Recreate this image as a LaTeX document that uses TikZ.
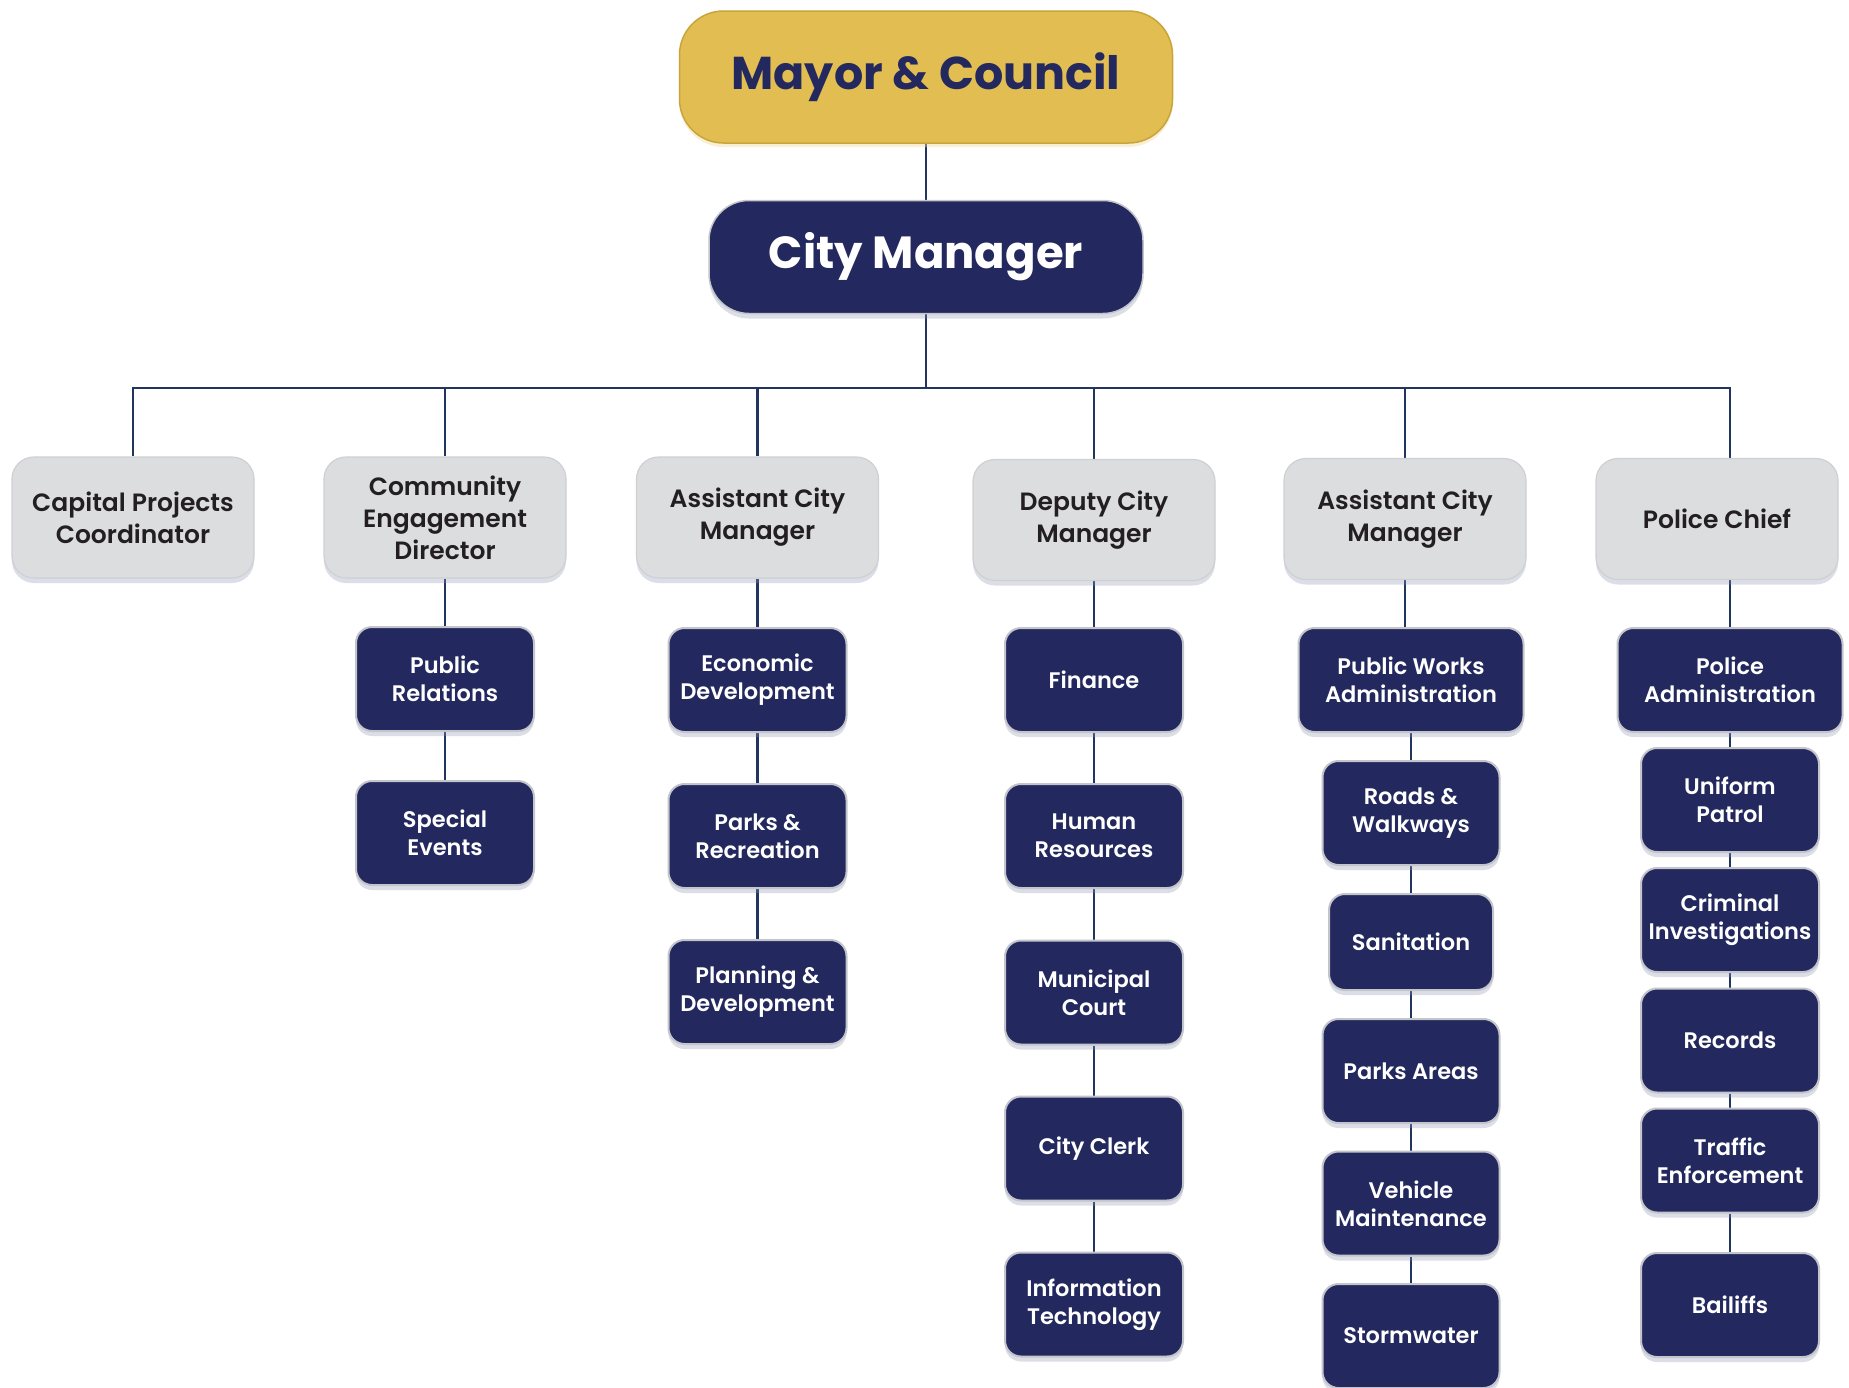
\documentclass[tikz,border=0pt]{standalone}
\usepackage{fontspec}
\setmainfont{Poppins}[UprightFont={* SemiBold},BoldFont={* Bold}]
\usetikzlibrary{shadows}
\definecolor{navy}{HTML}{23295E}
\definecolor{linec}{HTML}{22355F}
\definecolor{gold}{HTML}{E2BE52}
\definecolor{goldedge}{HTML}{C9A43A}
\definecolor{grayf}{HTML}{DCDDDF}
\definecolor{grayedge}{HTML}{CFD0D3}
\definecolor{navyedge}{HTML}{C3C5CB}
\definecolor{shade}{HTML}{8E95B0}
\definecolor{inkdark}{HTML}{231F20}
\pgfdeclarelayer{bg}
\pgfsetlayers{bg,main}
\tikzset{
  boxshadow/.style={drop shadow={shadow xshift=0pt,shadow yshift=-5pt,fill=shade,opacity=0.3}},
  conn/.style={draw=linec,line width=2.6pt},
  topbox/.style={rounded corners=44pt,fill=gold,draw=goldedge,line width=1.5pt,
    minimum width=493pt,minimum height=132pt,text=navy,
    font=\fontsize{46}{52}\selectfont\bfseries,
    drop shadow={shadow xshift=0pt,shadow yshift=-4pt,fill=gold!60,opacity=0.4}},
  cmbox/.style={rounded corners=40pt,fill=navy,draw=navyedge,line width=1.5pt,
    minimum width=434pt,minimum height=113pt,text=white,
    font=\fontsize{45}{50}\selectfont\bfseries,boxshadow},
  graybox/.style={rounded corners=22pt,fill=grayf,draw=grayedge,line width=1.2pt,
    minimum width=242pt,minimum height=121pt,text=inkdark,align=center,
    font=\fontsize{25}{32}\selectfont,boxshadow},
  navybox/.style={rounded corners=16pt,fill=navy,draw=navyedge,line width=2pt,
    minimum width=178pt,minimum height=104pt,text=white,align=center,
    font=\fontsize{22.5}{28}\selectfont,boxshadow},
}
\begin{document}
\begin{tikzpicture}[x=1pt,y=-1pt]
\useasboundingbox (0,0) rectangle (1849,1387);
\begin{pgfonlayer}{bg}
\fill[white] (0,0) rectangle (1849,1387);
\end{pgfonlayer}
\clip (0,0) rectangle (1849,1387);

% top of the hierarchy
\node[topbox] (mayor) at (926,77) {Mayor \& Council};
\node[cmbox] (cm) at (926,257) {City Manager};

% second tier
\node[graybox] (cap) at (133,517.5) {Capital Projects\\Coordinator};
\node[graybox] (ced) at (445,517.5) {Community\\Engagement\\Director};
\node[graybox] (acm1) at (757.5,517.5) {Assistant City\\Manager};
\node[graybox] (dcm) at (1094,520) {Deputy City\\Manager};
\node[graybox] (acm2) at (1405,519) {Assistant City\\Manager};
\node[graybox] (chief) at (1717,519) {Police Chief};

% community engagement
\node[navybox] (pr) at (445,679) {Public\\Relations};
\node[navybox] (se) at (445,833) {Special\\Events};

% first assistant city manager
\node[navybox] (econ) at (757.5,680) {Economic\\Development};
\node[navybox] (parksrec) at (757.5,836) {Parks \&\\Recreation};
\node[navybox] (plan) at (757.5,992) {Planning \&\\Development};

% deputy city manager
\node[navybox] (fin) at (1094,680) {Finance};
\node[navybox] (hr) at (1094,836) {Human\\Resources};
\node[navybox] (court) at (1094,992.5) {Municipal\\Court};
\node[navybox] (clerk) at (1094,1148.5) {City Clerk};
\node[navybox] (it) at (1094,1304.5) {Information\\Technology};

% second assistant city manager
\node[navybox,minimum width=225pt] (pwa) at (1411,680) {Public Works\\Administration};
\node[navybox,minimum width=177pt] (roads) at (1411,813) {Roads \&\\Walkways};
\node[navybox,minimum width=164pt,minimum height=96pt] (sanit) at (1411,942) {Sanitation};
\node[navybox,minimum width=177pt] (parka) at (1411,1071) {Parks Areas};
\node[navybox,minimum width=177pt] (veh) at (1411,1203.5) {Vehicle\\Maintenance};
\node[navybox,minimum width=177pt] (storm) at (1411,1336) {Stormwater};

% police
\node[navybox,minimum width=225pt] (padm) at (1730,680) {Police\\Administration};
\node[navybox] (patrol) at (1730,800) {Uniform\\Patrol};
\node[navybox] (crim) at (1730,920) {Criminal\\Investigations};
\node[navybox] (rec) at (1730,1040.5) {Records};
\node[navybox] (traffic) at (1730,1160.5) {Traffic\\Enforcement};
\node[navybox] (bail) at (1730,1305) {Bailiffs};

% reporting lines, kept beneath the boxes
\begin{pgfonlayer}{bg}
\coordinate (bus) at (926,388);
\draw[conn] (mayor.south) -- (cm.north);
\draw[conn] (cm.south) -- (bus);
\draw[conn] (cap.north) |- (bus);
\draw[conn] (bus) -| (padm.north |- chief.north);
\draw[conn] (ced.north) -- (ced.north |- bus);
\draw[conn] (acm1.north) -- (acm1.north |- bus);
\draw[conn] (dcm.north) -- (dcm.north |- bus);
\draw[conn] (acm2.north) -- (acm2.north |- bus);

\draw[conn] (ced.south) -- (pr.north);
\draw[conn] (pr.south) -- (se.north);

\draw[conn] (acm1.south) -- (econ.north);
\draw[conn] (econ.south) -- (parksrec.north);
\draw[conn] (parksrec.south) -- (plan.north);

\draw[conn] (dcm.south) -- (fin.north);
\draw[conn] (fin.south) -- (hr.north);
\draw[conn] (hr.south) -- (court.north);
\draw[conn] (court.south) -- (clerk.north);
\draw[conn] (clerk.south) -- (it.north);

\draw[conn] (acm2.south) -- (acm2.south |- pwa.north);
\draw[conn] (pwa.south) -- (roads.north);
\draw[conn] (roads.south) -- (sanit.north);
\draw[conn] (sanit.south) -- (parka.north);
\draw[conn] (parka.south) -- (veh.north);
\draw[conn] (veh.south) -- (storm.north);

\draw[conn] (padm.north |- chief.south) -- (padm.north);
\draw[conn] (padm.south) -- (patrol.north);
\draw[conn] (patrol.south) -- (crim.north);
\draw[conn] (crim.south) -- (rec.north);
\draw[conn] (rec.south) -- (traffic.north);
\draw[conn] (traffic.south) -- (bail.north);
\end{pgfonlayer}
\end{tikzpicture}
\end{document}
